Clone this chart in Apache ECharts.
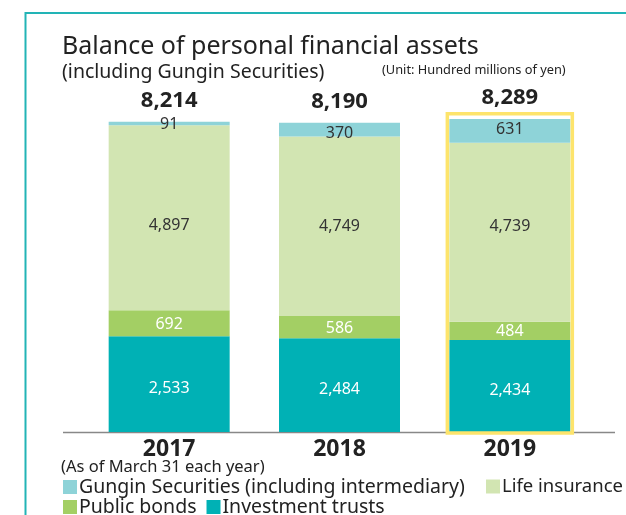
<!DOCTYPE html>
<html>
<head>
<meta charset="utf-8">
<script src="https://cdn.jsdelivr.net/npm/echarts@6/dist/echarts.min.js"></script>
<style>
html,body{margin:0;padding:0;background:#fff;}
#chart{width:626px;height:515px;}
</style>
</head>
<body>
<div id="chart"></div>
<script>
var years = ['2017', '2018', '2019'];
var investTrusts = [2533, 2484, 2434];
var publicBonds = [692, 586, 484];
var lifeInsurance = [4897, 4749, 4739];
var gunginSec = [91, 370, 631];
var totals = [8214, 8190, 8289];
var highlightYear = '2019';

var fontFam = '"Noto Sans", "Open Sans", sans-serif';
var dom = document.getElementById('chart');
var myChart = echarts.init(dom);

function fmt(v){
	return v.toString().replace(/\B(?=(\d{3})+(?!\d))/g, ',');
}

var segLabel = function(color, dy){
	return {
		show: true,
		position: 'inside',
		color: color,
		fontSize: 16,
		fontFamily: fontFam,
		offset: [0, dy],
		formatter: function(p){ return fmt(p.value); }
	};
};

// label nudges per bar, as in the original print
function withNudge(values, dys){
	return values.map(function(v, i){
		return {value: v, label: {offset: [0, dys[i]]}};
	});
}

var hlIndex = years.indexOf(highlightYear);
var legendBase = function(names, left, top, size){
	return {data: names, left: left, top: top, padding: 0, itemWidth: 14, itemHeight: 14,
		itemGap: 10, icon: 'rect',
		textStyle: {fontSize: size, color: '#222', fontFamily: fontFam, padding: [0, 0, 0, -3]}};
};

var option = {
	animation: false,
	grid: {left: 84, right: 31, top: 92, bottom: 83},
	title: [
		{text: 'Balance of personal financial assets', left: 62, top: 34, padding: 0,
			textStyle: {fontSize: 25, fontWeight: 'normal', color: '#222', fontFamily: fontFam}},
		{text: '(including Gungin Securities)', left: 62, top: 62, padding: 0,
			textStyle: {fontSize: 19.5, fontWeight: 'normal', color: '#222', fontFamily: fontFam}},
		{text: '(Unit: Hundred millions of yen)', left: 382, top: 64, padding: 0,
			textStyle: {fontSize: 12.8, fontWeight: 'normal', color: '#222', fontFamily: fontFam}},
		{text: '(As of March 31 each year)', left: 61, top: 459, padding: 0,
			textStyle: {fontSize: 16.5, fontWeight: 'normal', color: '#222', fontFamily: fontFam}}
	],
	legend: [
		legendBase(['Gungin Securities (including intermediary)'], 63, 477, 19.5),
		legendBase(['Life insurance'], 486, 477, 18.5),
		legendBase(['Public bonds', 'Investment trusts'], 63, 497, 19.5)
	],
	xAxis: {
		type: 'category',
		data: years,
		axisLine: {show: false},
		axisTick: {show: false},
		axisLabel: {fontSize: 23, fontWeight: 'bold', color: '#222', fontFamily: fontFam, margin: 6}
	},
	yAxis: {
		type: 'value', min: 0, max: 9000,
		show: false, splitLine: {show: false}
	},
	graphic: [
		{type: 'line', shape: {x1: 63, y1: 432.5, x2: 615, y2: 432.5}, style: {stroke: '#888', lineWidth: 1.5}, z: 1},
		{type: 'polyline', shape: {points: [[25.5, 515], [25.5, 13], [626, 13]]}, style: {stroke: '#22b4b6', lineWidth: 2, fill: null}}
	],
	series: [
		{name: 'Investment trusts', type: 'bar', stack: 'a', barWidth: 121, data: investTrusts,
			itemStyle: {color: '#00b1b5'}, label: segLabel('#fff', 4), z: 3},
		{name: 'Public bonds', type: 'bar', stack: 'a', data: publicBonds,
			itemStyle: {color: '#a3cf64'}, label: segLabel('#fff', 1), z: 3},
		{name: 'Life insurance', type: 'bar', stack: 'a', data: withNudge(lifeInsurance, [8, 0, -6]),
			itemStyle: {color: '#d2e5b2'}, label: segLabel('#333', 0), z: 3},
		{name: 'Gungin Securities (including intermediary)', type: 'bar', stack: 'a', data: withNudge(gunginSec, [1, 4, -1]),
			itemStyle: {color: '#8ed3d8'}, label: segLabel('#333', 0), z: 3},
		{name: 'total', type: 'bar', stack: 'a', data: totals.map(function(){ return 0; }),
			itemStyle: {color: 'transparent'},
			label: {show: true, position: 'top', distance: 10, fontSize: 22, fontWeight: 'bold',
				color: '#222', fontFamily: fontFam,
				formatter: function(p){ return fmt(totals[p.dataIndex]); }}, z: 3},
		{name: 'highlight', type: 'custom', z: 5,
			data: [[hlIndex, totals[hlIndex]]],
			renderItem: function(params, api){
				var top = api.coord([api.value(0), api.value(1)]);
				var base = api.coord([api.value(0), 0]);
				var w = 121 + 4;
				return {
					type: 'rect',
					shape: {x: top[0] - w / 2, y: top[1] - 5, width: w, height: base[1] - top[1] + 6},
					style: {fill: null, stroke: '#fde46c', lineWidth: 3.5}
				};
			}
		}
	]
};
myChart.setOption(option);
</script>
</body>
</html>
